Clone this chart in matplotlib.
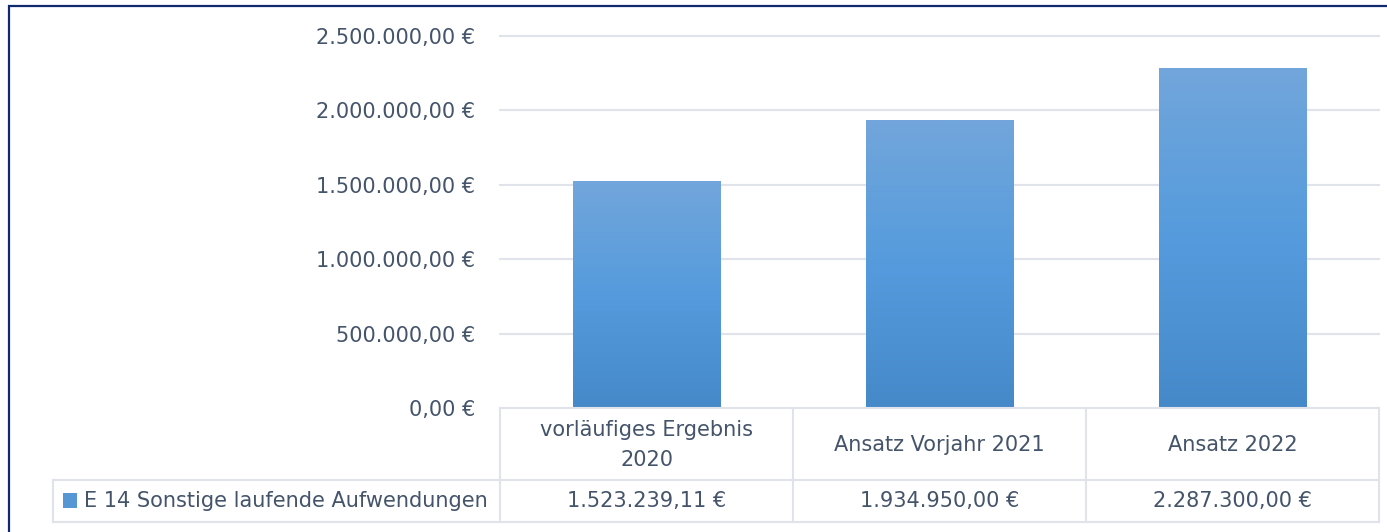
import matplotlib
matplotlib.use("Agg")
import matplotlib.pyplot as plt
import numpy as np
from matplotlib.colors import LinearSegmentedColormap
from matplotlib.lines import Line2D
from matplotlib.patches import Rectangle
import matplotlib.transforms as mtransforms

# Data
categories = ["vorläufiges Ergebnis\n2020", "Ansatz Vorjahr 2021", "Ansatz 2022"]
values = [1523239.11, 1934950.00, 2287300.00]
series_name = "E 14 Sonstige laufende Aufwendungen"
y_ticks = [0, 500000, 1000000, 1500000, 2000000, 2500000]


def euro(v):
    s = f"{v:,.2f}"
    s = s.replace(",", "X").replace(".", ",").replace("X", ".")
    return s + " €"


W, H = 1387, 532
DPI = 100
TEXT = "#44546A"
GRID = "#E0E4EA"
NAVY = "#0F2A6E"
FONT = "DejaVu Sans"
FS = 15

plt.rcParams["font.family"] = [FONT]

fig = plt.figure(figsize=(W / DPI, H / DPI), dpi=DPI)
fig.patch.set_facecolor("white")


def fx(px):
    return px / W


def fy(py):
    return 1 - py / H


# Plot area in pixel terms
ax_l, ax_r, ax_t, ax_b = 500, 1379, 36, 408
ax = fig.add_axes([fx(ax_l), fy(ax_b), fx(ax_r) - fx(ax_l), fy(ax_t) - fy(ax_b)])
ax.set_xlim(-0.5, len(categories) - 0.5)
ax.set_ylim(0, 2500000)
for s in ax.spines.values():
    s.set_visible(False)
ax.set_xticks([])
ax.set_yticks(y_ticks)
ax.set_yticklabels([euro(v) for v in y_ticks], fontsize=FS, color=TEXT)
ax.tick_params(axis="y", length=0, pad=18)

# Horizontal gridlines
for v in y_ticks[1:]:
    ax.axhline(v, color=GRID, lw=1.5, zorder=0, clip_on=False)

# Gradient-filled bars
cmap = LinearSegmentedColormap.from_list(
    "bar", [(0.0, "#4589C9"), (0.5, "#559BDD"), (1.0, "#72A6DB")]
)
grad = np.linspace(0, 1, 256).reshape(-1, 1)
bar_w = 0.505
bars = ax.bar(range(len(values)), values, width=bar_w, color="none", zorder=2)
for rect, v in zip(bars, values):
    x0 = rect.get_x()
    im = ax.imshow(grad, cmap=cmap, origin="lower", aspect="auto",
                   extent=[x0, x0 + bar_w, 0, v], zorder=2)
    im.set_clip_path(rect)
ax.set_xlim(-0.5, len(categories) - 0.5)
ax.set_ylim(0, 2500000)

# Data table below the plot (x in data coords, y in figure pixels)
blend = mtransforms.blended_transform_factory(ax.transData, fig.transFigure)
lw_t = 1.5
row1_top, row1_bot, row2_bot = 408, 480, 522
col_edges = [-0.5 + i for i in range(len(categories) + 1)]

# Table top (category axis baseline)
fig.add_artist(Line2D([fx(ax_l), fx(ax_r)], [fy(row1_top)] * 2, color=GRID, lw=lw_t))
# Row separators spanning the legend column too
for yy in (row1_bot, row2_bot):
    fig.add_artist(Line2D([fx(53), fx(ax_r)], [fy(yy)] * 2, color=GRID, lw=lw_t))
# Vertical cell borders
for xe in col_edges:
    fig.add_artist(Line2D([xe, xe], [fy(row1_top), fy(row2_bot)], color=GRID,
                          lw=lw_t, transform=blend))
fig.add_artist(Line2D([fx(53), fx(53)], [fy(row1_bot), fy(row2_bot)], color=GRID, lw=lw_t))

# Category headers and values
for i, (c, v) in enumerate(zip(categories, values)):
    fig.text(i, fy((row1_top + row1_bot) / 2 + 1), c, transform=blend,
             ha="center", va="center", fontsize=FS, color=TEXT, linespacing=1.6)
    fig.text(i, fy((row1_bot + row2_bot) / 2), euro(v), transform=blend,
             ha="center", va="center", fontsize=FS, color=TEXT)

# Legend key and series name
fig.add_artist(Rectangle((fx(63), fy(508)), fx(77) - fx(63), fy(493) - fy(508),
                         transform=fig.transFigure, facecolor="#5596D4", edgecolor="none"))
fig.text(fx(84), fy((row1_bot + row2_bot) / 2), series_name, ha="left", va="center",
         fontsize=FS, color=TEXT)

# Outer frame (top and left edges)
fig.add_artist(Line2D([fx(8), fx(W)], [fy(5.5), fy(5.5)], color=NAVY, lw=1.6,
                      solid_capstyle="butt"))
fig.add_artist(Line2D([fx(8.8), fx(8.8)], [fy(4.7), fy(H)], color=NAVY, lw=1.6,
                      solid_capstyle="butt"))

fig.savefig("out.png", dpi=DPI, facecolor="white")
